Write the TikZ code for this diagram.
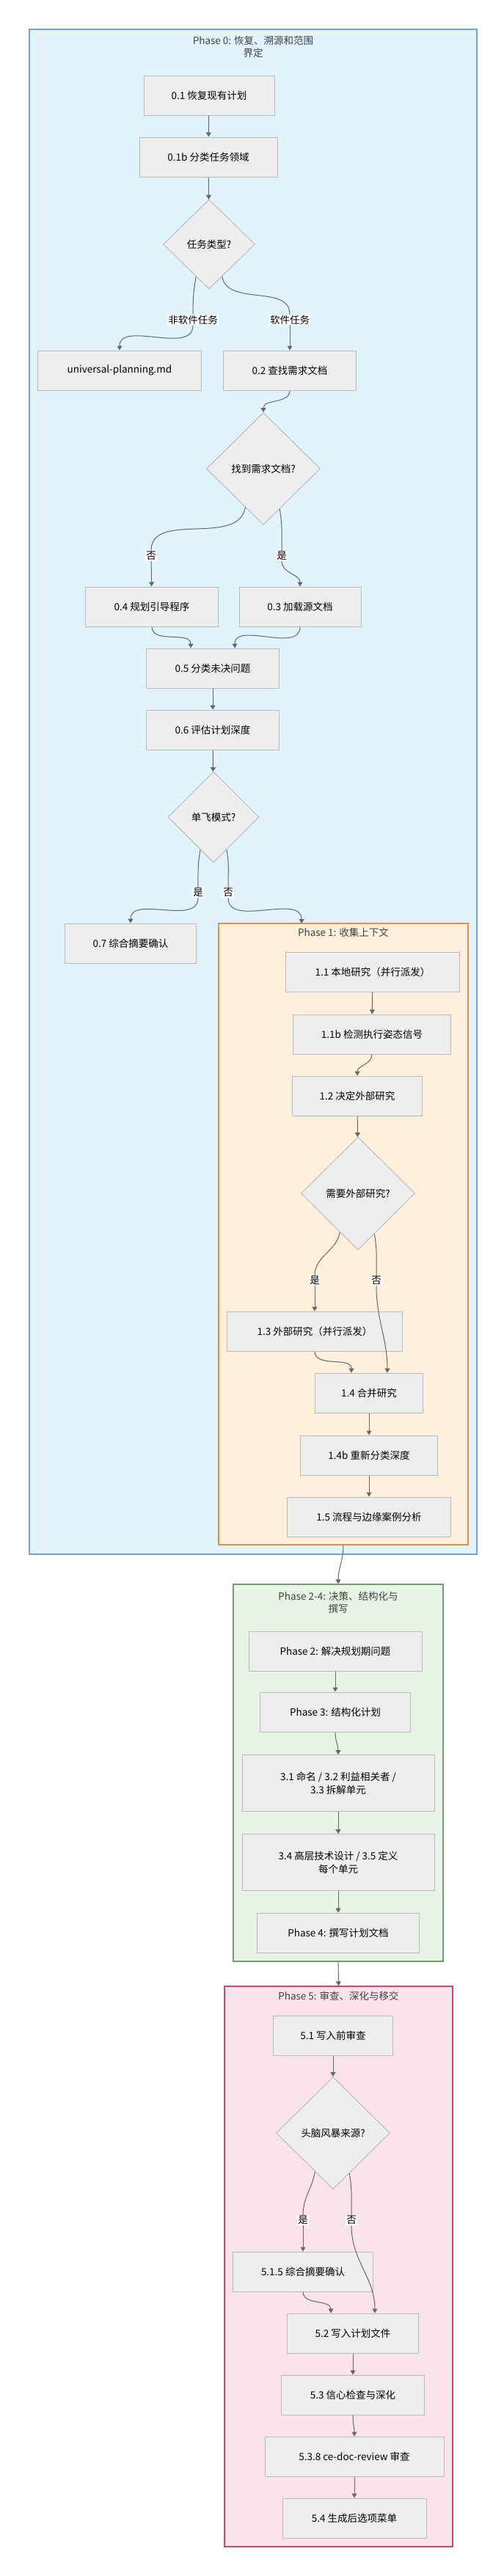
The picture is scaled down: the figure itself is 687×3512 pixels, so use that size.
\documentclass[tikz,border=0pt]{standalone}
\usepackage{fontspec}
\setmainfont{Noto Sans CJK SC}
\usetikzlibrary{shapes.geometric,arrows.meta}
\definecolor{boxfill}{HTML}{EEEEEE}
\definecolor{boxline}{HTML}{BBBBBB}
\definecolor{linkgray}{HTML}{666666}
\definecolor{zerofill}{HTML}{E1F3FC}
\definecolor{zeroline}{HTML}{6FA3D6}
\definecolor{onefill}{HTML}{FEF0DC}
\definecolor{oneline}{HTML}{EE8748}
\definecolor{twofill}{HTML}{E7F4E6}
\definecolor{twoline}{HTML}{6E9E6E}
\definecolor{fivefill}{HTML}{FBE3EB}
\definecolor{fiveline}{HTML}{C2487A}
\tikzset{
  stage/.style={draw=boxline, fill=boxfill, line width=1pt, minimum height=54pt, align=center, font=\fontsize{13.5}{18}\selectfont},
  ask/.style={diamond, draw=boxline, fill=boxfill, line width=1pt, inner sep=0pt, font=\fontsize{13.5}{16}\selectfont},
  lab/.style={fill=white, inner sep=1pt, font=\fontsize{13.5}{16}\selectfont},
  link/.style={draw=linkgray, line width=1pt},
  arr/.style={link, -{Triangle[length=6pt,width=7pt]}},
  cluster/.style={draw=#1line, fill=#1fill, line width=1.2pt},
  phasetitle/.style={align=center, text=black!75, font=\fontsize{13.5}{17}\selectfont}
}
\begin{document}
\begin{tikzpicture}[x=1pt,y=-1pt]
  \useasboundingbox (0,0) rectangle (687,3512);
  % clusters
  \node[cluster=zero, minimum width=610pt, minimum height=2079pt] (ph0) at (345,1079.5) {};
  \node[phasetitle] at (345,64) {Phase 0: 恢复、溯源和范围\\界定};
  \node[cluster=one, minimum width=340pt, minimum height=847pt] (ph1) at (468,1682.5) {};
  \node[phasetitle] at (468,1271) {Phase 1: 收集上下文};
  \node[cluster=two, minimum width=286pt, minimum height=514pt] (ph24) at (461,2417) {};
  \node[phasetitle] at (461,2185) {Phase 2-4: 决策、结构化与\\撰写};
  \node[cluster=five, minimum width=311pt, minimum height=764pt] (ph5) at (461.5,3090) {};
  \node[phasetitle] at (461.5,2721) {Phase 5: 审查、深化与移交};

  % phase 0
  \node[stage, minimum width=178pt] (s01) at (285,130) {0.1 恢复现有计划};
  \node[stage, minimum width=188pt] (s01b) at (284,214) {0.1b 分类任务领域};
  \node[ask, minimum width=125pt, minimum height=122pt] (q1) at (285,333) {任务类型?};
  \node[stage, minimum width=223pt] (uni) at (163,505) {universal-planning.md};
  \node[stage, minimum width=181pt] (s02) at (395,505) {0.2 查找需求文档};
  \node[ask, minimum width=155pt, minimum height=153pt] (q2) at (359,639) {找到需求文档?};
  \node[stage, minimum width=181pt] (s04) at (207,827) {0.4 规划引导程序};
  \node[stage, minimum width=166pt] (s03) at (409,827) {0.3 加载源文档};
  \node[stage, minimum width=181pt] (s05) at (290,911) {0.5 分类未决问题};
  \node[stage, minimum width=181pt] (s06) at (290,995) {0.6 评估计划深度};
  \node[ask, minimum width=124pt, minimum height=124pt] (q3) at (291,1114) {单飞模式?};
  \node[stage, minimum width=179pt] (s07) at (178,1286) {0.7 综合摘要确认};
  \coordinate (p1in) at (411,1259);

  % phase 1
  \node[stage, minimum width=237pt] (s11) at (508,1325) {1.1 本地研究（并行派发）};
  \node[stage, minimum width=215pt] (s11b) at (507,1410) {1.1b 检测执行姿态信号};
  \node[stage, minimum width=177pt] (s12) at (487,1494) {1.2 决定外部研究};
  \node[ask, minimum width=155pt, minimum height=154pt] (q4) at (488,1627) {需要外部研究?};
  \node[stage, minimum width=239pt] (s13) at (429,1815) {1.3 外部研究（并行派发）};
  \node[stage, minimum width=147pt] (s14) at (503,1899) {1.4 合并研究};
  \node[stage, minimum width=187pt] (s14b) at (503,1984) {1.4b 重新分类深度};
  \node[stage, minimum width=223pt] (s15) at (503,2068) {1.5 流程与边缘案例分析};

  % phase 2-4
  \node[stage, minimum width=236pt] (p2) at (457,2251) {Phase 2: 解决规划期问题};
  \node[stage, minimum width=205pt] (p3) at (457,2334) {Phase 3: 结构化计划};
  \node[stage, minimum width=262pt, minimum height=77pt] (s31) at (461,2431) {3.1 命名 / 3.2 利益相关者 /\\3.3 拆解单元};
  \node[stage, minimum width=262pt, minimum height=77pt] (s34) at (461,2539) {3.4 高层技术设计 / 3.5 定义\\每个单元};
  \node[stage, minimum width=221pt] (p4) at (461,2635) {Phase 4: 撰写计划文档};

  % phase 5
  \node[stage, minimum width=163pt] (s51) at (454,2775) {5.1 写入前审查};
  \node[ask, minimum width=155pt, minimum height=153pt] (q5) at (454,2908) {头脑风暴来源?};
  \node[stage, minimum width=191pt] (s515) at (413,3097) {5.1.5 综合摘要确认};
  \node[stage, minimum width=179pt] (s52) at (481,3181) {5.2 写入计划文件};
  \node[stage, minimum width=195pt] (s53) at (481,3265) {5.3 信心检查与深化};
  \node[stage, minimum width=244pt] (s538) at (483,3349) {5.3.8 ce-doc-review 审查};
  \node[stage, minimum width=196pt] (s54) at (483,3433) {5.4 生成后选项菜单};

  % labels
  \node[lab] (l1) at (263,436) {非软件任务};
  \node[lab] (l2) at (395,436) {软件任务};
  \node[lab] (l3) at (206,758) {否};
  \node[lab] (l4) at (384,758) {是};
  \node[lab] (l5) at (270,1217) {是};
  \node[lab] (l6) at (311,1217) {否};
  \node[lab] (l7) at (429,1746) {是};
  \node[lab] (l8) at (513,1746) {否};
  \node[lab] (l9) at (413,3027) {是};
  \node[lab] (l10) at (479,3027) {否};

  % edges
  \draw[arr] (s01) -- (s01b);
  \draw[arr] (s01b) -- (q1);
  \draw[link] (q1.-112) to[out=-100,in=90] (l1);
  \draw[arr] (l1) to[out=-90,in=90] (uni);
  \draw[link] (q1.-68) to[out=-80,in=90] (l2);
  \draw[arr] (l2) -- (s02);
  \draw[arr] (s02) to[out=-90,in=90] (q2);
  \draw[link] (q2.-115) to[out=-100,in=90] (l3);
  \draw[arr] (l3) -- (s04);
  \draw[link] (q2.-68) to[out=-80,in=90] (l4);
  \draw[arr] (l4) to[out=-90,in=90] (s03);
  \draw[arr] (s04) to[out=-90,in=90] ([xshift=-30pt]s05.north);
  \draw[arr] (s03) to[out=-90,in=90] ([xshift=30pt]s05.north);
  \draw[arr] (s05) -- (s06);
  \draw[arr] (s06) -- (q3);
  \draw[link] (q3.-112) to[out=-100,in=90] (l5);
  \draw[arr] (l5) to[out=-90,in=90] (s07);
  \draw[link] (q3.-68) to[out=-80,in=90] (l6);
  \draw[arr] (l6) to[out=-90,in=90] (p1in);
  \draw[arr] (s11) -- (s11b);
  \draw[arr] (s11b) to[out=-90,in=90] (s12);
  \draw[arr] (s12) -- (q4);
  \draw[link] (q4.-115) to[out=-100,in=90] (l7);
  \draw[arr] (l7) -- (s13);
  \draw[link] (q4.-68) to[out=-80,in=90] (l8);
  \draw[arr] (l8) to[out=-90,in=90] ([xshift=25pt]s14.north);
  \draw[arr] (s13) to[out=-90,in=90] ([xshift=-24pt]s14.north);
  \draw[arr] (s14) -- (s14b);
  \draw[arr] (s14b) -- (s15);
  \draw[arr] (ph1.south) to[out=-90,in=90] (ph24.north);
  \draw[arr] (p2) -- (p3);
  \draw[arr] (p3) to[out=-90,in=90] (s31);
  \draw[arr] (s31) -- (s34);
  \draw[arr] (s34) -- (p4);
  \draw[arr] (ph24.south) -- (ph5.north);
  \draw[arr] (s51) -- (q5);
  \draw[link] (q5.-115) to[out=-100,in=90] (l9);
  \draw[arr] (l9) -- (s515);
  \draw[link] (q5.-68) to[out=-80,in=90] (l10);
  \draw[arr] (l10) to[out=-90,in=90] ([xshift=30pt]s52.north);
  \draw[arr] (s515) to[out=-90,in=90] ([xshift=-30pt]s52.north);
  \draw[arr] (s52) -- (s53);
  \draw[arr] (s53) to[out=-90,in=90] (s538);
  \draw[arr] (s538) -- (s54);
\end{tikzpicture}
\end{document}
